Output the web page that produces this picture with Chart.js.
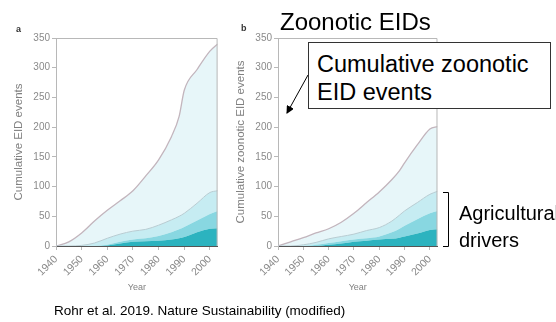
<!DOCTYPE html>
<html>
<head>
<meta charset="utf-8">
<script src="https://cdn.jsdelivr.net/npm/chart.js@4.4.1/dist/chart.umd.min.js"></script>
<style>
    html, body { margin: 0; padding: 0; background: #fff; overflow: hidden; }
    body { width: 556px; height: 322px; position: relative; font-family: 'Liberation Sans', Arial, sans-serif; }
    canvas { position: absolute; top: 0; }
    #chart-a { left: 0; }
    #chart-b { left: 222px; }
    .txt { position: absolute; white-space: nowrap; color: #000; line-height: 1; }
    .panel-tag { font-size: 9px; font-weight: bold; color: #333; }
    #marks { position: absolute; left: 0; top: 0; }
    #callout {
        position: absolute; left: 308px; top: 42px; width: 243px; height: 67px;
        border: 1px solid #333; background: #fff;
        font-size: 23.5px; line-height: 28px; padding: 7px 0 0 8px; box-sizing: border-box;
    }
</style>
</head>
<body>
<canvas id="chart-a" width="222" height="300"></canvas>
<canvas id="chart-b" width="220" height="300"></canvas>

<div class="txt panel-tag" style="left:16px; top:25px;">a</div>
<div class="txt panel-tag" style="left:241px; top:24px;">b</div>
<div class="txt" style="left:280px; top:10px; font-size:24px;">Zoonotic EIDs</div>

<svg id="marks" width="556" height="322">
    <defs>
        <marker id="head" markerWidth="8" markerHeight="8" refX="7" refY="4" orient="auto" markerUnits="userSpaceOnUse">
            <path d="M0,0 L8,4 L0,8 z" fill="#000"/>
        </marker>
    </defs>
    <line x1="308" y1="75" x2="287" y2="113" stroke="#000" stroke-width="1" marker-end="url(#head)"/>
    <path d="M443,192.5 H448.5 V246.5 H443" fill="none" stroke="#000" stroke-width="1"/>
</svg>

<div id="callout">Cumulative zoonotic<br>EID events</div>

<div class="txt" style="left:459px; top:200px; font-size:20px; line-height:27px;">Agricultural<br>drivers</div>
<div class="txt" style="left:54px; top:304px; font-size:13.5px;">Rohr et al. 2019. Nature Sustainability (modified)</div>

<script>
// Years sampled along the curves
const years = [1940, 1945, 1950, 1955, 1960, 1965, 1970, 1975, 1980, 1985, 1988, 1990, 1995, 2000, 2003];
const xTicks = [1940, 1950, 1960, 1970, 1980, 1990, 2000];
const yTicks = [0, 50, 100, 150, 200, 250, 300, 350];

// Panel a - cumulative EID events (boundaries of each band, bottom to top)
const aLayer1 = [0, 0, 0, 0, 1, 4, 7, 8, 9, 11, 13, 15, 23, 29, 30];
const aLayer2 = [0, 0, 0, 0, 2, 7, 11, 13, 17, 23, 28, 32, 43, 54, 59];
const aLayer3 = [0, 0, 1, 5, 13, 20, 25, 28, 35, 44, 50, 55, 72, 90, 93];
const aTotal  = [0, 7, 22, 42, 60, 76, 93, 118, 145, 184, 218, 262, 297, 328, 340];

// Panel b - cumulative zoonotic EID events
const bLayer1 = [0, 0, 0, 0, 2, 4, 7, 9, 11, 12, 14, 16, 21, 27, 28];
const bLayer2 = [0, 0, 0, 2, 5, 8, 11, 13, 16, 23, 29, 34, 45, 55, 59];
const bLayer3 = [0, 0, 2, 6, 12, 16, 20, 26, 31, 42, 52, 59, 73, 87, 92];
const bTotal  = [0, 7, 14, 22, 29, 40, 55, 73, 91, 112, 127, 140, 170, 197, 201];

Chart.defaults.font.family = "'Liberation Sans', Arial, sans-serif";

const COLORS = {
    layer1: '#2cb3bf',
    layer2: '#88d7e1',
    layer3: '#c6ecf2',
    total: '#e7f6f9',
    totalLine: '#c3b5bd',
    layer3Line: '#b9ccd2',
    tickText: '#8a8a8a',
    axisLine: '#b8b8b8'
};

/**
 * Draws the light top/right frame around the plot area
 */
const framePlugin = {
    id: 'frame',
    afterDatasetsDraw(chart) {
        const { ctx, chartArea: a } = chart;
        ctx.save();
        ctx.strokeStyle = COLORS.axisLine;
        ctx.lineWidth = 1;
        ctx.beginPath();
        ctx.moveTo(a.left, a.top + 0.5);
        ctx.lineTo(a.right - 0.5, a.top + 0.5);
        ctx.lineTo(a.right - 0.5, a.bottom);
        ctx.stroke();
        ctx.restore();
    }
};

function toPoints(values) {
    return years.map((yr, i) => ({ x: yr, y: values[i] }));
}

/**
 * Build one stacked-band panel
 */
function buildPanel(canvasId, yTitle, layer1, layer2, layer3, total) {
    const ctx = document.getElementById(canvasId).getContext('2d');

    const band = (values, fill, bg, line, width) => ({
        data: toPoints(values),
        fill: fill,
        backgroundColor: bg,
        borderColor: line,
        borderWidth: width,
        pointRadius: 0,
        cubicInterpolationMode: 'monotone'
    });

    return new Chart(ctx, {
        type: 'line',
        data: {
            datasets: [
                band(layer1, 'origin', COLORS.layer1, COLORS.layer1, 0),
                band(layer2, '-1', COLORS.layer2, COLORS.layer2, 0),
                band(layer3, '-1', COLORS.layer3, COLORS.layer3Line, 1),
                band(total, '-1', COLORS.total, COLORS.totalLine, 1.3)
            ]
        },
        options: {
            responsive: false,
            animation: false,
            devicePixelRatio: 1,
            layout: { padding: { top: 38, right: 4, bottom: 0, left: 8 } },
            plugins: {
                legend: { display: false },
                tooltip: { enabled: false }
            },
            scales: {
                x: {
                    type: 'linear',
                    min: 1940,
                    max: 2003,
                    afterBuildTicks: s => { s.ticks = xTicks.map(v => ({ value: v })); },
                    afterFit: s => { s.height = 54; },
                    grid: { drawOnChartArea: false, tickLength: 4, color: COLORS.axisLine },
                    border: { color: '#555' },
                    ticks: {
                        autoSkip: false,
                        minRotation: 45,
                        maxRotation: 45,
                        padding: 3,
                        color: COLORS.tickText,
                        font: { size: 10.5 },
                        callback: v => String(v)
                    },
                    title: {
                        display: true,
                        text: 'Year',
                        color: '#808080',
                        font: { size: 9 },
                        padding: { top: 0, bottom: 7 }
                    }
                },
                y: {
                    min: 0,
                    max: 350,
                    afterBuildTicks: s => { s.ticks = yTicks.map(v => ({ value: v })); },
                    afterFit: s => { s.width = 48; },
                    grid: { drawOnChartArea: false, tickLength: 4, color: COLORS.axisLine },
                    border: { color: COLORS.axisLine },
                    ticks: {
                        padding: 2,
                        color: COLORS.tickText,
                        font: { size: 10 }
                    },
                    title: {
                        display: true,
                        text: yTitle,
                        color: '#808080',
                        font: { size: 11.5 },
                        padding: { top: 4, bottom: 2 }
                    }
                }
            }
        },
        plugins: [framePlugin]
    });
}

buildPanel('chart-a', 'Cumulative EID events', aLayer1, aLayer2, aLayer3, aTotal);
buildPanel('chart-b', 'Cumulative zoonotic EID events', bLayer1, bLayer2, bLayer3, bTotal);
</script>
</body>
</html>
